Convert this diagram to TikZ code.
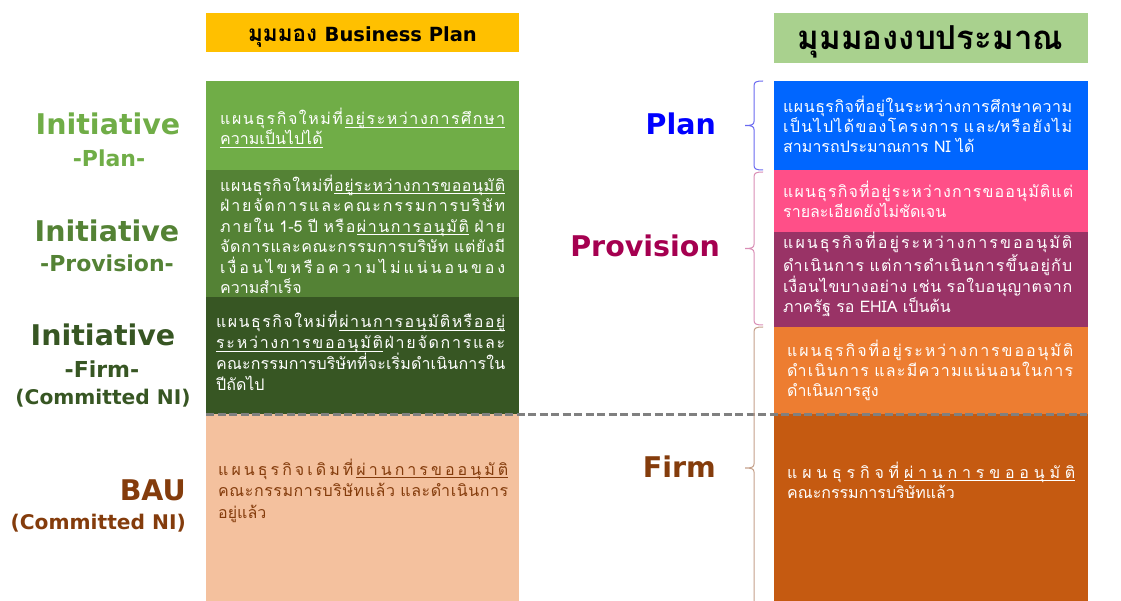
\documentclass[tikz,border=0pt]{standalone}
\usepackage{fontspec}
\newfontfamily\thaifnt[Script=Thai]{Loma}
\newfontfamily\labfnt{DejaVu Sans}

% Thai distributed justification: glue between character clusters
\XeTeXinterchartokenstate=1
\count255="0E01
\loop \XeTeXcharclass\count255=201 \ifnum\count255<"0E5B \advance\count255 1 \repeat
\XeTeXcharclass"0E31=202
\count255="0E33
\loop \XeTeXcharclass\count255=202 \ifnum\count255<"0E3A \advance\count255 1 \repeat
\count255="0E47
\loop \XeTeXcharclass\count255=202 \ifnum\count255<"0E4E \advance\count255 1 \repeat
\newdimen\gluenat \gluenat=0pt
\newdimen\jlwa \newdimen\jlwb
\newbox\ulbx
\XeTeXinterchartoks 201 201 = {\hskip\gluenat\relax}
\XeTeXinterchartoks 202 201 = {\hskip\gluenat\relax}
\newcommand\gsp{\hskip\gluenat\relax}
\newcommand\ulin[1]{\setbox\ulbx\hbox{#1}\rlap{\rule[-2.6pt]{\wd\ulbx}{0.7pt}}\box\ulbx}
% \jl{width}{line}: spread one line of Thai text to the given width
\newcommand\jl[2]{\begingroup
  \gluenat=0pt \setbox0\hbox{#2}\jlwa=\wd0
  \gluenat=1pt \setbox0\hbox{#2}\jlwb=\wd0
  \ifdim\jlwb>\jlwa
    \gluenat=\dimexpr(#1-\jlwa)/\numexpr(\jlwb-\jlwa)/65536\relax\relax
    \ifdim\gluenat<0pt \gluenat=0pt\fi
  \else \gluenat=0pt\fi
  \hbox{#2}\endgroup}

\definecolor{hdrYellow}{HTML}{FFC000}
\definecolor{hdrGreen}{HTML}{A9D18E}
\definecolor{gPlan}{HTML}{70AD47}
\definecolor{gProv}{HTML}{548235}
\definecolor{gFirm}{HTML}{375623}
\definecolor{peach}{HTML}{F4C19E}
\definecolor{bauBrown}{HTML}{843C0C}
\definecolor{bPlan}{HTML}{0066FF}
\definecolor{bPink}{HTML}{FF4F88}
\definecolor{bPlum}{HTML}{993366}
\definecolor{bOrange}{HTML}{ED7D31}
\definecolor{bDark}{HTML}{C55A11}
\definecolor{labBlue}{HTML}{0000FF}
\definecolor{labProv}{HTML}{A50050}
\definecolor{brBlue}{HTML}{6A6AF0}
\definecolor{brPink}{HTML}{D98DB5}
\definecolor{brTan}{HTML}{C4A08A}
\definecolor{dashGray}{HTML}{808080}

\tikzset{
  % multi-line texts are placed by the baseline of their last line
  bodytxt/.style={anchor=base west, inner sep=0pt, align=left, text=white,
    font=\thaifnt\fontsize{16}{#1}\selectfont},
  bodytxt/.default=20.3,
  biglab/.style={inner sep=0pt, font=\labfnt\bfseries\fontsize{28.5}{30}\selectfont},
  sublab/.style={inner sep=0pt, font=\labfnt\bfseries\fontsize{22}{24}\selectfont},
  comlab/.style={inner sep=0pt, font=\labfnt\bfseries\fontsize{20.2}{22}\selectfont},
  brc/.style={line width=1pt},
  divider/.style={dashGray, line width=3pt, dash pattern=on 8pt off 3.5pt}
}
% left curly brace: colour, x of the ends, top, bottom, tip y
\newcommand\sidebrace[5]{%
  \draw[brc, #1] (#2,#3) .. controls (#2-7,#3) and (#2-9,#3+1) .. (#2-9,#3+5)
    -- (#2-9,#5-4) .. controls (#2-9,#5-1) and (#2-11,#5) .. (#2-18,#5)
    .. controls (#2-11,#5) and (#2-9,#5+1) .. (#2-9,#5+4)
    -- (#2-9,#4-5) .. controls (#2-9,#4-1) and (#2-7,#4) .. (#2,#4);}

\begin{document}
\begin{tikzpicture}[x=1pt,y=-1pt]
\useasboundingbox (0,0) rectangle (1121,601);

% headers
\fill[hdrYellow] (206,13) rectangle (519,52);
\fill[hdrGreen] (774,13) rectangle (1088,63);
\node[inner sep=0pt, anchor=base] (hdrL) at (362.5,42)
  {\fontsize{22.5}{24}\selectfont\thaifnt\bfseries มุมมอง\ {\fontsize{19.5}{22}\selectfont\labfnt\bfseries Business Plan}};
\node[inner sep=0pt, anchor=base] (hdrR) at (930.5,50)
  {\fontsize{33}{35}\selectfont\thaifnt\bfseries มุมมองงบประมาณ};

% business plan column
\fill[gPlan] (206,81) rectangle (519,170);
\fill[gProv] (206,170) rectangle (519,297);
\fill[gFirm] (206,297) rectangle (519,414);
\fill[peach] (206,414) rectangle (519,601);

% budget column
\fill[bPlan] (774,81) rectangle (1088,170);
\fill[bPink] (774,170) rectangle (1088,232);
\fill[bPlum] (774,232) rectangle (1088,327);
\fill[bOrange] (774,327) rectangle (1088,414);
\fill[bDark] (774,414) rectangle (1088,601);

% divider between initiative and committed plans
\coordinate (divL) at (206,414);
\coordinate (divR) at (1087,414);
\draw[divider] (divL) -- (divR);

% texts of the business plan column
\node[bodytxt=20] (t1) at (220,145) {%
  \jl{285pt}{แผนธุรกิจใหม่ที่\gsp\ulin{อยู่ระหว่างการศึกษา}}\\
  \ulin{ความเป็นไปได้}};
\node[bodytxt=20.5] (t2) at (220,294) {%
  \jl{285pt}{แผนธุรกิจใหม่ที่\gsp\ulin{อยู่ระหว่างการขออนุมัติ}}\\
  \jl{285pt}{ฝ่ายจัดการและคณะกรรมการบริษัท}\\
  \jl{285pt}{ภายใน 1-5 ปี หรือ\gsp\ulin{ผ่านการอนุมัติ} ฝ่าย}\\
  \jl{285pt}{จัดการและคณะกรรมการบริษัท แต่ยังมี}\\
  \jl{285pt}{เงื่อนไขหรือความไม่แน่นอนของ}\\
  ความสำเร็จ};
\node[bodytxt=20.7] (t3) at (216,390) {%
  \jl{289pt}{แผนธุรกิจใหม่ที่\gsp\ulin{ผ่านการอนุมัติหรืออยู่}}\\
  \jl{289pt}{\ulin{ระหว่างการขออนุมัติ}\gsp ฝ่ายจัดการและ}\\
  \jl{289pt}{คณะกรรมการบริษัทที่จะเริ่มดำเนินการใน}\\
  ปีถัดไป};
\node[bodytxt=21.5, text=bauBrown] (t4) at (218,518) {%
  \jl{290pt}{แผนธุรกิจเดิมที่\gsp\ulin{ผ่านการขออนุมัติ}}\\
  \jl{290pt}{คณะกรรมการบริษัทแล้ว และดำเนินการ}\\
  อยู่แล้ว};

% texts of the budget column
\node[bodytxt=20] (r1) at (783,153) {%
  \jl{289pt}{แผนธุรกิจที่อยู่ในระหว่างการศึกษาความ}\\
  \jl{289pt}{เป็นไปได้ของโครงการ และ/หรือยังไม่}\\
  สามารถประมาณการ NI ได้};
\node[bodytxt=20] (r2) at (783,218) {%
  \jl{290pt}{แผนธุรกิจที่อยู่ระหว่างการขออนุมัติแต่}\\
  รายละเอียดยังไม่ชัดเจน};
\node[bodytxt=20.3] (r3) at (783,313) {%
  \jl{289pt}{แผนธุรกิจที่อยู่ระหว่างการขออนุมัติ}\\
  \jl{289pt}{ดำเนินการ แต่การดำเนินการขึ้นอยู่กับ}\\
  \jl{289pt}{เงื่อนไขบางอย่าง เช่น รอใบอนุญาตจาก}\\
  ภาครัฐ รอ EHIA เป็นต้น};
\node[bodytxt=20] (r4) at (787,396) {%
  \jl{286pt}{แผนธุรกิจที่อยู่ระหว่างการขออนุมัติ}\\
  \jl{286pt}{ดำเนินการ และมีความแน่นอนในการ}\\
  ดำเนินการสูง};
\node[bodytxt=20] (r5) at (787,498) {%
  \jl{288pt}{แผนธุรกิจที่\gsp\ulin{ผ่านการขออนุมัติ}}\\
  คณะกรรมการบริษัทแล้ว};

% stage labels on the left
\node[biglab, text=gPlan, anchor=base] (iniPlan) at (108,135) {Initiative};
\node[sublab, text=gPlan, anchor=base] (subPlan) at (109,167) {-Plan-};
\node[biglab, text=gProv, anchor=base] (iniProv) at (107,242) {Initiative};
\node[sublab, text=gProv, anchor=base] (subProv) at (107,272) {-Provision-};
\node[biglab, text=gFirm, anchor=base] (iniFirm) at (103,345) {Initiative};
\node[sublab, text=gFirm, anchor=base] (subFirm) at (102,377) {-Firm-};
\node[comlab, text=gFirm, anchor=base] (comFirm) at (103,404) {(Committed NI)};
\node[biglab, text=bauBrown, anchor=base east] (bau) at (186,500) {BAU};
\node[comlab, text=bauBrown, anchor=base east] (comBau) at (186,529) {(Committed NI)};

% budget categories with braces
\node[biglab, text=labBlue, anchor=base east] (lPlan) at (716,135) {Plan};
\node[biglab, text=labProv, anchor=base east] (lProv) at (720,257) {Provision};
\node[biglab, text=bauBrown, anchor=base east] (lFirm) at (716,477) {Firm};
\sidebrace{brBlue}{763}{81}{170}{125.5}
\sidebrace{brPink}{763}{172}{325}{248.5}
\sidebrace{brTan}{763}{327}{612}{468}
\end{tikzpicture}
\end{document}
